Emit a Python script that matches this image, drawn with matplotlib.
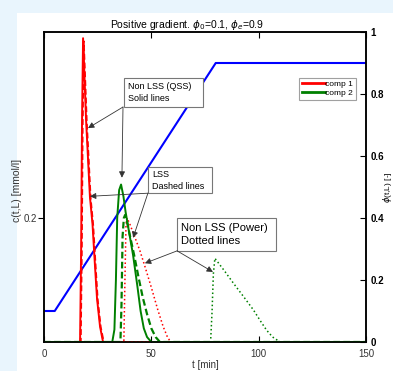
import numpy as np
import matplotlib
matplotlib.use('Agg')
import matplotlib.pyplot as plt
from matplotlib.patches import Rectangle

plt.rcParams['font.family'] = ['Liberation Sans', 'DejaVu Sans']

# comp 1, non LSS (QSS) - solid
t_c1_qss = [0, 16.8, 17.3, 17.7, 18.2, 19.6, 21.4, 22.6, 23.8, 24.7, 26.1, 27.5, 150]
c_c1_qss = [0, 0, 0.15, 0.35, 0.49, 0.358, 0.234, 0.19, 0.12, 0.07, 0.025, 0, 0]
# comp 1, LSS - dashed (almost on top of the solid one)
t_c1_lss = [0, 17.1, 17.6, 18.0, 18.5, 19.9, 21.7, 22.9, 24.1, 25.0, 26.4, 27.8, 150]
c_c1_lss = [0, 0, 0.15, 0.35, 0.485, 0.355, 0.232, 0.188, 0.118, 0.068, 0.024, 0, 0]
# comp 1, non LSS (power) - dotted
t_c1_pow = [0, 37.2, 37.7, 38.2, 38.7, 40, 42, 44.7, 47, 50, 53, 55.5, 57.5, 59, 150]
c_c1_pow = [0, 0, 0.1, 0.19, 0.2, 0.19, 0.172, 0.147, 0.122, 0.088, 0.052, 0.025, 0.008, 0, 0]

# comp 2
t_c2_qss = [0, 31.8, 32.8, 33.5, 34.1, 35.0, 35.9, 37.0, 38.0, 39.5, 41.5, 43.5, 45.0, 46.5, 48.0, 50.0, 150]
c_c2_qss = [0, 0, 0.02, 0.1, 0.2, 0.245, 0.254, 0.235, 0.21, 0.18, 0.14, 0.09, 0.05, 0.022, 0.008, 0, 0]
t_c2_lss = [0, 35.6, 36.1, 36.6, 37.2, 37.8, 38.6, 40, 42, 44, 46, 48, 50, 52, 54, 150]
c_c2_lss = [0, 0, 0.06, 0.17, 0.2, 0.205, 0.195, 0.172, 0.14, 0.105, 0.072, 0.045, 0.022, 0.008, 0, 0]
t_c2_pow = [0, 77.6, 78.3, 78.9, 79.6, 84, 88.2, 93, 97.5, 101, 103.7, 106.5, 110, 150]
c_c2_pow = [0, 0, 0.05, 0.11, 0.135, 0.115, 0.095, 0.073, 0.052, 0.033, 0.019, 0.008, 0, 0]

# modifier gradient
t_phi = [0, 5, 80, 150]
phi = [0.1, 0.1, 0.9, 0.9]

x_ticks = [0, 50, 100, 150]
phi_ticks = [0, 0.2, 0.4, 0.6, 0.8, 1]

red = '#ff0000'
green = '#008000'
blue = '#0000ff'

fig = plt.figure(figsize=(3.93, 3.71), dpi=100)
fig.patch.set_facecolor('#e9f5fd')
fig.patches.append(Rectangle((17 / 393, 0), 1, 1 - 13 / 371, transform=fig.transFigure,
                             facecolor='white', edgecolor='none', zorder=-5))

ax = fig.add_axes([44 / 393, 1 - 342 / 371, 322 / 393, 310 / 371])
ax2 = ax.twinx()
ax.set_zorder(ax2.get_zorder() + 1)
ax.patch.set_visible(False)

ax2.plot(t_phi, phi, color=blue, lw=1.5)
ax2.set_ylim(0, 1)
ax2.set_yticks(phi_ticks)
ax2.set_yticklabels(['0', '0.2', '0.4', '0.6', '0.8', '1'], fontsize=7, fontweight='bold')
ax2.tick_params(axis='y', direction='in', length=4, width=0.8, pad=3)
ax2.set_ylabel(r'$\phi$(t,L) [-]', fontsize=6)
ax2.yaxis.set_label_coords(1.046, 0.5)

ax.plot(t_c1_qss, c_c1_qss, color=red, lw=1.4, label='comp 1')
ax.plot(t_c1_lss, c_c1_lss, color=red, lw=1.4, ls=(0, (3, 1.5)))
ax.plot(t_c1_pow, c_c1_pow, color=red, lw=1.1, ls=':')
ax.plot(t_c2_qss, c_c2_qss, color=green, lw=1.4, label='comp 2')
ax.plot(t_c2_lss, c_c2_lss, color=green, lw=1.6, ls=(0, (3, 1.5)))
ax.plot(t_c2_pow, c_c2_pow, color=green, lw=1.1, ls=':')

ax.set_xlim(0, 150)
ax.set_ylim(0, 0.5)
ax.set_xticks(x_ticks)
ax.set_xticklabels([str(v) for v in x_ticks], fontsize=7, color='#333333')
ax.set_yticks([0.2])
ax.set_yticklabels(['0.2'], fontsize=7, color='#333333')
ax.tick_params(axis='x', direction='in', length=4, width=0.8, top=True, pad=5)
ax.tick_params(axis='y', direction='out', length=4, width=0.8, pad=1)
ax.set_xlabel('t [min]', fontsize=7, color='#333333', labelpad=1)
ax.set_ylabel('c(t,L) [mmol/l]', fontsize=7.5, color='#333333')
ax.yaxis.set_label_coords(-0.068, 0.49)
ax.set_title(r'Positive gradient. $\phi_0$=0.1, $\phi_e$=0.9', fontsize=7.5, pad=3, x=0.444)
for sp in list(ax.spines.values()) + list(ax2.spines.values()):
    sp.set_linewidth(1.1)

leg = ax.legend(loc='upper right', bbox_to_anchor=(0.968, 0.853), borderaxespad=0,
                fontsize=6, frameon=True, fancybox=False, edgecolor='#888888',
                handlelength=2.8, handletextpad=0.05, borderpad=0.3, labelspacing=0.2)
leg.get_frame().set_linewidth(0.8)
for h in leg.get_lines():
    h.set_linewidth(2)

# annotation boxes: (t0, c0, t1, c1) with text lines
boxes = [
    ((37.3, 0.379, 74.1, 0.426), 'Non LSS (QSS)\nSolid lines', 6.5),
    ((48.4, 0.240, 78.3, 0.282), 'LSS\nDashed lines', 6.5),
    ((62.0, 0.147, 108.1, 0.200), 'Non LSS (Power)\nDotted lines', 8),
]
for (x0, y0, x1, y1), txt, fs in boxes:
    ax.add_patch(Rectangle((x0, y0), x1 - x0, y1 - y0, facecolor='white',
                           edgecolor='#777777', lw=0.8, zorder=5))
    ax.text(x0 + 1.8, (y0 + y1) / 2, txt, fontsize=fs, va='center', ha='left',
            linespacing=1.45, zorder=6)

arrows = [
    ((36.8, 0.379), (20.5, 0.345)),
    ((36.8, 0.379), (36.3, 0.265)),
    ((48.4, 0.240), (21.4, 0.235)),
    ((48.4, 0.240), (41.5, 0.168)),
    ((62.0, 0.147), (47.0, 0.127)),
    ((62.0, 0.147), (78.7, 0.113)),
]
for start, end in arrows:
    ax.annotate('', xy=end, xytext=start,
                arrowprops=dict(arrowstyle='-|>', color='#333333', lw=0.6,
                                mutation_scale=9, shrinkA=0, shrinkB=0), zorder=7)

fig.savefig('out.png', dpi=100, facecolor=fig.get_facecolor())
